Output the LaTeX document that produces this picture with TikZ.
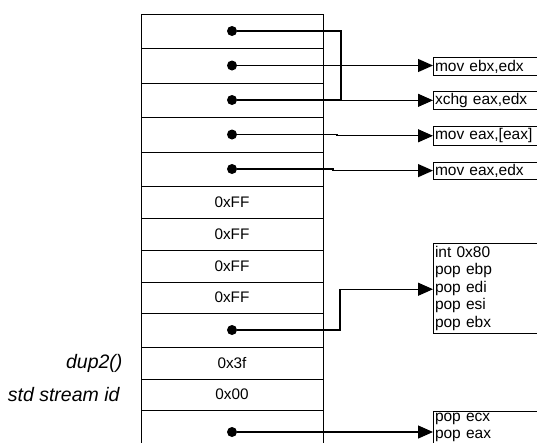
\documentclass[tikz,border=0pt]{standalone}
\usepackage{fontspec}
\setmainfont{Liberation Sans}
\usetikzlibrary{arrows.meta, positioning}

\begin{document}
\begin{tikzpicture}[x=1pt, y=-1pt,
      cell/.style = {draw, line width=1pt, minimum width=182pt,
                     outer sep=0pt, inner sep=0pt, font=\fontsize{15.3}{17}\selectfont},
      dot/.style  = {circle, fill, inner sep=0pt, minimum size=10pt},
      op/.style   = {draw, line width=1pt, text width=120pt, align=left,
                     inner sep=2pt, outer sep=0pt,
                     font=\fontsize{15.5}{17.5}\selectfont},
      side/.style = {font=\fontsize{19.5}{22}\selectfont\itshape, anchor=east},
      arr/.style  = {-{Triangle[length=15pt, width=13pt]}, line width=1.2pt},
      lnk/.style  = {line width=1.2pt}
    ]
    \clip (0,0) rectangle (537,442);

    \node[cell, minimum height=34] (c1) at (232,31) {};
    \node[cell, minimum height=35, below=0pt of c1]  (c2)  {};
    \node[cell, minimum height=34, below=0pt of c2]  (c3)  {};
    \node[cell, minimum height=35, below=0pt of c3]  (c4)  {};
    \node[cell, minimum height=34, below=0pt of c4]  (c5)  {};
    \node[cell, minimum height=32, below=0pt of c5]  (c6)  {0xFF};
    \node[cell, minimum height=32, below=0pt of c6]  (c7)  {0xFF};
    \node[cell, minimum height=32, below=0pt of c7]  (c8)  {0xFF};
    \node[cell, minimum height=31, below=0pt of c8]  (c9)  {0xFF};
    \node[cell, minimum height=34, below=0pt of c9]  (c10) {};
    \node[cell, minimum height=32, below=0pt of c10] (c11) {0x3f};
    \node[cell, minimum height=31, below=0pt of c11] (c12) {0x00};
    \node[cell, minimum height=40, below=0pt of c12] (c13) {};

    \foreach \i in {1,2,3,4,5,10}
      \node[dot] (d\i) at (c\i.center) {};
    \node[dot] (d13) at ([yshift=-2pt]c13.center) {};

    \node[side, left=15pt of c11.west] (dup)    {dup2()};
    \node[side, left=18pt of c12.west] (stream) {std stream id};

    \node[op, anchor=west] (movbx) at (433,66.5) {mov ebx,edx};
    \node[op, below=16pt of movbx] (xchg)  {xchg eax,edx};
    \node[op, below=17pt of xchg]  (movax) {mov eax,[eax]};
    \node[op, below=17pt of movax] (movdx) {mov eax,edx};
    \node[op, anchor=north west, inner ysep=3pt] (intr) at (433,243)
          {int 0x80\\pop ebp\\pop edi\\pop esi\\pop ebx};
    \node[op, anchor=north west] (popc) at (433,411) {pop ecx\\pop eax};

    \coordinate (j1) at (341,0);
    \coordinate (j4) at (337,0);
    \coordinate (j5) at (333,0);
    \coordinate (j10) at (340,0);

    \draw[arr] (d2) -- (d2 -| movbx.west);
    \draw[arr] (d1) -- (d1 -| j1) |- (xchg.west);
    \draw[lnk] (d3) -- (d3 -| j1);
    \draw[arr] (d4) -- (d4 -| j4) |- (movax.west);
    \draw[arr] (d5) -- (d5 -| j5) |- (movdx.west);
    \draw[arr] (d10) -- (d10 -| j10) |- ([yshift=-1pt]intr.west);
    \draw[arr] (d13) -- (d13 -| popc.west);
  \end{tikzpicture}
\end{document}
